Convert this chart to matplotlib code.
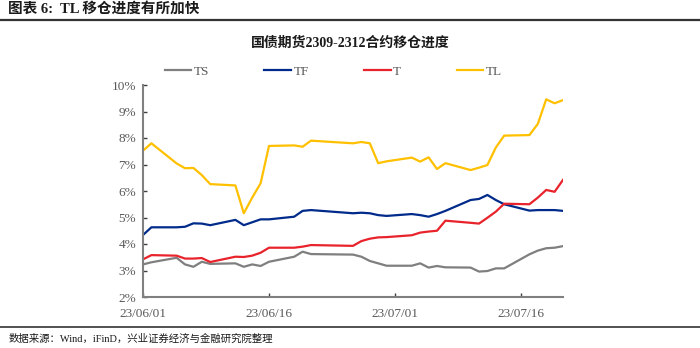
import matplotlib
matplotlib.use("Agg")
import matplotlib.pyplot as plt
import matplotlib.dates as mdates
from matplotlib.lines import Line2D
import pandas as pd

plt.rcParams['font.family'] = ['Liberation Serif', 'Noto Sans CJK SC']

# trading days 2023-06-01 .. 2023-07-21
dates = pd.to_datetime([
    '2023-06-01', '2023-06-02', '2023-06-05', '2023-06-06', '2023-06-07', '2023-06-08', '2023-06-09',
    '2023-06-12', '2023-06-13', '2023-06-14', '2023-06-15', '2023-06-16',
    '2023-06-19', '2023-06-20', '2023-06-21',
    '2023-06-26', '2023-06-27', '2023-06-28', '2023-06-29', '2023-06-30',
    '2023-07-03', '2023-07-04', '2023-07-05', '2023-07-06', '2023-07-07',
    '2023-07-10', '2023-07-11', '2023-07-12', '2023-07-13', '2023-07-14',
    '2023-07-17', '2023-07-18', '2023-07-19', '2023-07-20', '2023-07-21',
])

ts = [3.23, 3.31, 3.48, 3.23, 3.14, 3.33, 3.25,
      3.27, 3.14, 3.23, 3.17, 3.33,
      3.52, 3.71, 3.62,
      3.60, 3.52, 3.36, 3.27, 3.18,
      3.18, 3.27, 3.11, 3.17, 3.12,
      3.11, 2.96, 2.98, 3.08, 3.08,
      3.61, 3.75, 3.84, 3.86, 3.92]

tf = [4.34, 4.63, 4.63, 4.65, 4.78, 4.77, 4.71,
      4.91, 4.71, 4.82, 4.93, 4.93,
      5.03, 5.25, 5.28,
      5.16, 5.18, 5.16, 5.09, 5.06,
      5.13, 5.09, 5.03, 5.13, 5.25,
      5.66, 5.70, 5.85, 5.66, 5.50,
      5.26, 5.28, 5.28, 5.28, 5.25]

t = [3.42, 3.58, 3.56, 3.45, 3.45, 3.47, 3.32,
     3.52, 3.51, 3.56, 3.67, 3.86,
     3.86, 3.90, 3.96,
     3.93, 4.11, 4.20, 4.25, 4.26,
     4.33, 4.43, 4.47, 4.50, 4.88,
     4.80, 4.77, 4.99, 5.22, 5.52,
     5.50, 5.75, 6.04, 5.97, 6.42]

tl = [7.52, 7.80, 7.04, 6.86, 6.87, 6.60, 6.26,
      6.21, 5.16, 5.75, 6.29, 7.70,
      7.72, 7.67, 7.90,
      7.80, 7.85, 7.80, 7.05, 7.12,
      7.26, 7.11, 7.27, 6.83, 7.05,
      6.79, 6.88, 6.98, 7.64, 8.09,
      8.11, 8.53, 9.46, 9.31, 9.43]

names = ['TS', 'TF', 'T', 'TL']
colors = ['#7f7f7f', '#002b8a', '#e8232b', '#ffc000']

fig = plt.figure(figsize=(7, 3.48), dpi=100)
ax = fig.add_axes([143 / 700, 1 - 297 / 348, 420 / 700, 212 / 348])

for series, name, c in zip([ts, tf, t, tl], names, colors):
    ax.plot(dates, series, color=c, lw=1.6, label=name)

ax.set_ylim(2, 10)
ax.set_yticks(range(2, 11))
ax.set_yticklabels([f'{v}%' for v in range(2, 11)])
ax.set_xlim(dates[0], dates[-1])
ax.set_xticks(pd.to_datetime(['2023-06-01', '2023-06-16', '2023-07-01', '2023-07-16']))
ax.xaxis.set_major_formatter(mdates.DateFormatter('%y/%m/%d'))

for s in ['top', 'right']:
    ax.spines[s].set_visible(False)
for s in ['left', 'bottom']:
    ax.spines[s].set_color('#808080')
    ax.spines[s].set_linewidth(1.5)
ax.tick_params(direction='in', length=3, width=1, color='#404040',
               labelcolor='#595959', labelsize=9.5)
ax.tick_params(axis='y', pad=5)
ax.tick_params(axis='x', pad=8)

leg = fig.legend(loc='center', bbox_to_anchor=(0.476, 1 - 72 / 348), ncol=4,
                 frameon=False, fontsize=9.5, handlelength=2.0, columnspacing=4.2,
                 handletextpad=0.2)
for txt in leg.get_texts():
    txt.set_color('#595959')

# heading, subtitle, rules and source note
fig.text(0.012, 1 - 9 / 348, '图表 6:  TL 移仓进度有所加快', fontsize=10.5,
         fontweight='bold', va='center', ha='left', color='#1a1a1a')
fig.add_artist(Line2D([0, 1], [1 - 20 / 348, 1 - 20 / 348], color='#333333', lw=1.6))
fig.text(0.5, 1 - 43 / 348, '国债期货2309-2312合约移仓进度', fontsize=10,
         fontweight='bold', va='center', ha='center', color='#1a1a1a')
fig.add_artist(Line2D([0, 1], [1 - 327 / 348, 1 - 327 / 348], color='#333333', lw=1.2))
fig.text(0.012, 1 - 339 / 348, '数据来源：Wind，iFinD，兴业证券经济与金融研究院整理',
         fontsize=7.5, va='center', ha='left', color='#1a1a1a')

fig.savefig('out.png', dpi=100)
